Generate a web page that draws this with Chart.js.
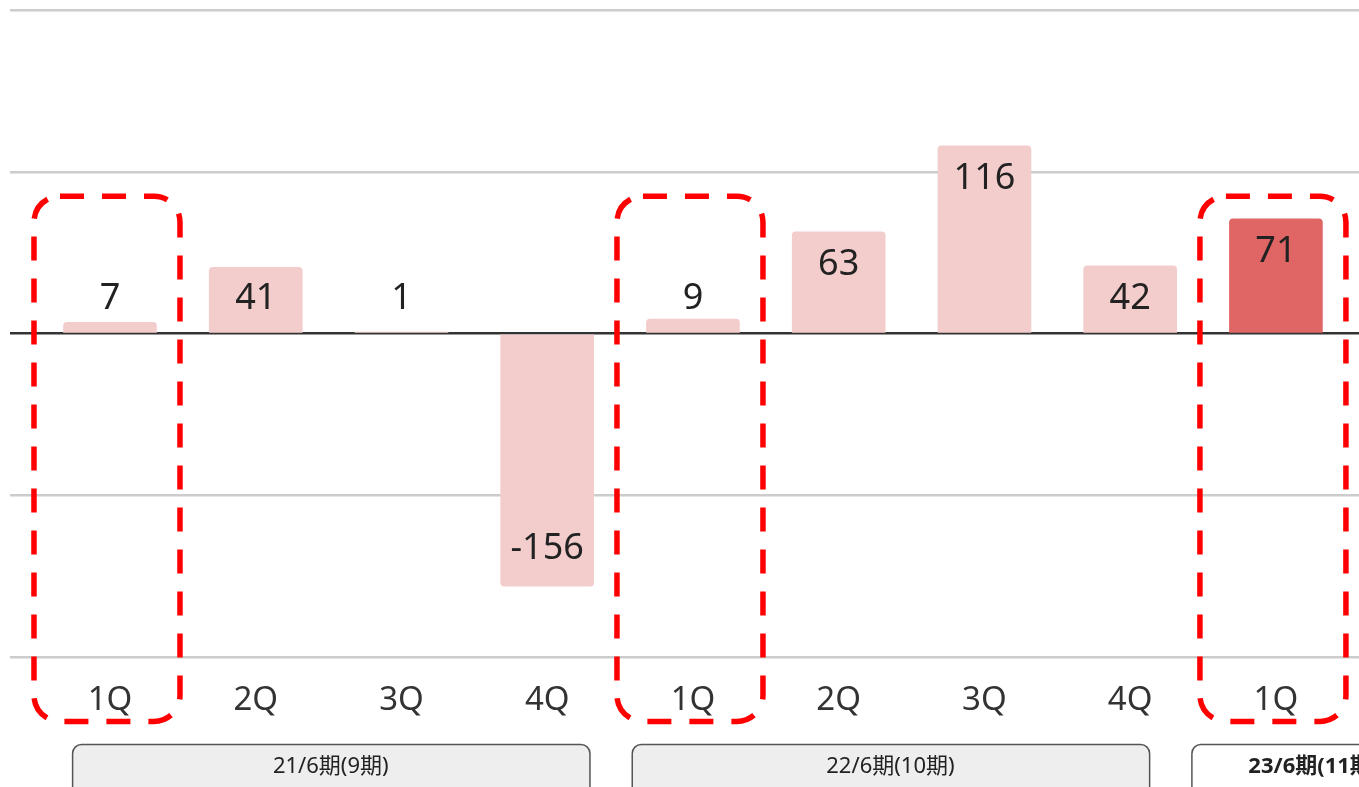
<!DOCTYPE html>
<html>
<head>
<meta charset="utf-8">
<script src="https://cdn.jsdelivr.net/npm/chart.js@4/dist/chart.umd.min.js"></script>
<style>
  html, body { margin: 0; padding: 0; background: #fff; overflow: hidden; }
  #wrap { position: relative; width: 1359px; height: 787px; }
</style>
</head>
<body>
<div id="wrap"><canvas id="c" width="1359" height="787"></canvas></div>
<script>
// Quarterly results (億円), by fiscal period
const quarters = ['1Q', '2Q', '3Q', '4Q', '1Q', '2Q', '3Q', '4Q', '1Q'];
const values   = [7, 41, 1, -156, 9, 63, 116, 42, 71];
const periodOf = [0, 0, 0, 0, 1, 1, 1, 1, 2];
const periods  = ['21/6期(9期)', '22/6期(10期)', '23/6期(11期)'];
const currentPeriod = 2;
const focusQuarter = '1Q';
const yTicks = [-200, -100, 0, 100, 200];

const FONT = "'Noto Sans', 'Noto Sans CJK JP', sans-serif";
const PALE = '#f3cccc';
const STRONG = '#e06666';

// period boxes under the axis, in category units
const periodSpan = [
  { start: -0.26, end: 3.29 },
  { start: 3.58, end: 7.13 },
  { start: 7.42, end: 9.1 }
];

function roundRect(ctx, x, y, w, h, r) {
  ctx.beginPath();
  ctx.moveTo(x + r, y);
  ctx.lineTo(x + w - r, y);
  ctx.arcTo(x + w, y, x + w, y + r, r);
  ctx.lineTo(x + w, y + h - r);
  ctx.arcTo(x + w, y + h, x + w - r, y + h, r);
  ctx.lineTo(x + r, y + h);
  ctx.arcTo(x, y + h, x, y + h - r, r);
  ctx.lineTo(x, y + r);
  ctx.arcTo(x, y, x + r, y, r);
  ctx.closePath();
}

const valueLabels = {
  id: 'valueLabels',
  afterDatasetsDraw(chart) {
    const ctx = chart.ctx;
    const meta = chart.getDatasetMeta(0);
    ctx.save();
    ctx.font = '36px ' + FONT;
    ctx.fillStyle = '#222';
    ctx.textAlign = 'center';
    ctx.textBaseline = 'middle';
    meta.data.forEach((el, i) => {
      const v = values[i];
      let y;
      if (v >= 0) y = Math.min(el.y + 33, el.base - 34);
      else y = el.y - 37;
      ctx.fillText(String(v), el.x, y);
    });
    ctx.restore();
  }
};

const overlays = {
  id: 'overlays',
  afterDraw(chart) {
    const ctx = chart.ctx;
    const xs = chart.scales.x, ys = chart.scales.y;
    const area = chart.chartArea;
    ctx.save();
    // dashed frames around each first quarter
    ctx.strokeStyle = '#ff0000';
    ctx.lineWidth = 5.5;
    ctx.setLineDash([24, 18]);
    const top = ys.getPixelForValue(85);
    const bottom = area.bottom + 64;
    quarters.forEach((q, i) => {
      if (q !== focusQuarter) return;
      const cx = xs.getPixelForValue(i) - 3;
      roundRect(ctx, cx - 73, top, 146, bottom - top, 26);
      ctx.stroke();
    });
    ctx.setLineDash([]);
    // period boxes
    periodSpan.forEach((s, p) => {
      const x0 = xs.getPixelForValue(s.start);
      const x1 = xs.getPixelForValue(s.end);
      const y0 = 744.5;
      const cur = p === currentPeriod;
      roundRect(ctx, x0 + 0.5, y0, x1 - x0, 60, 9);
      ctx.fillStyle = cur ? '#ffffff' : '#eeeeee';
      ctx.fill();
      ctx.strokeStyle = '#555';
      ctx.lineWidth = 1.5;
      ctx.stroke();
      ctx.fillStyle = '#222';
      ctx.font = (cur ? 'bold ' : '') + '22px ' + FONT;
      ctx.textAlign = 'center';
      ctx.textBaseline = 'middle';
      ctx.fillText(periods[p], (x0 + x1) / 2, 767);
    });
    ctx.restore();
  }
};

const pts = values.map((v, i) => ({ x: i, y: v }));
const colors = periodOf.map(p => p === currentPeriod ? STRONG : PALE);

new Chart(document.getElementById('c'), {
  type: 'bar',
  data: {
    datasets: [{
      data: pts,
      backgroundColor: colors,
      borderRadius: 4,
      borderSkipped: 'start',
      barThickness: 93
    }]
  },
  options: {
    responsive: false,
    animation: false,
    events: [],
    layout: { padding: { left: 10, right: 0, top: 10, bottom: 44 } },
    plugins: { legend: { display: false }, tooltip: { enabled: false } },
    scales: {
      x: {
        type: 'linear',
        offset: false,
        min: -0.686,
        max: 8.57,
        afterBuildTicks: s => { s.ticks = quarters.map((_, i) => ({ value: i })); },
        grid: { display: false, drawTicks: false, offset: false },
        border: { display: false },
        ticks: {
          callback: v => quarters[v],
          font: { family: FONT, size: 33 },
          color: '#333',
          padding: 23,
          maxRotation: 0,
          autoSkip: false
        }
      },
      y: {
        min: -200,
        max: 200,
        afterBuildTicks: s => { s.ticks = yTicks.map(v => ({ value: v })); },
        afterFit: s => { s.width = 0; },
        ticks: { display: false },
        border: { display: false },
        grid: {
          drawTicks: false,
          color: c => c.tick.value === 0 ? '#333' : '#cccccc',
          lineWidth: 2.5
        }
      }
    }
  },
  plugins: [valueLabels, overlays]
});
</script>
</body>
</html>
